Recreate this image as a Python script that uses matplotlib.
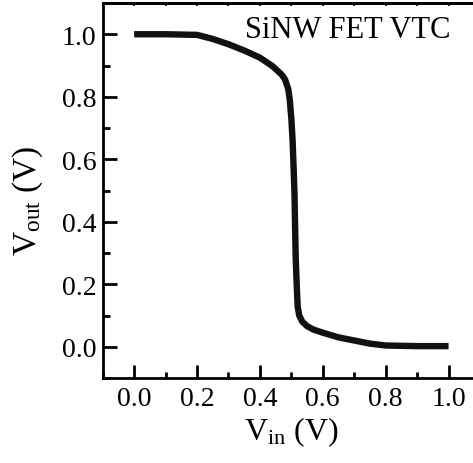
import matplotlib
matplotlib.use("Agg")
import matplotlib.pyplot as plt
from matplotlib.ticker import MultipleLocator

plt.rcParams["font.family"] = ["Liberation Serif", "DejaVu Serif"]
plt.rcParams["mathtext.fontset"] = "custom"
plt.rcParams["mathtext.rm"] = "Liberation Serif"
plt.rcParams["mathtext.it"] = "Liberation Serif"

# Voltage transfer characteristic of the SiNW FET inverter
vin = [0.00, 0.10, 0.20, 0.25, 0.30, 0.35, 0.40, 0.44, 0.47, 0.48, 0.49,
       0.495, 0.500, 0.504, 0.508, 0.510, 0.512, 0.514, 0.517, 0.520,
       0.525, 0.535, 0.55, 0.57, 0.60, 0.65, 0.70, 0.75, 0.80, 0.90, 1.00]
vout = [1.000, 1.000, 0.998, 0.985, 0.968, 0.948, 0.925, 0.898, 0.870,
        0.855, 0.825, 0.790, 0.730, 0.660, 0.550, 0.490, 0.380, 0.280,
        0.200, 0.130, 0.100, 0.080, 0.066, 0.055, 0.045, 0.030, 0.020,
        0.010, 0.004, 0.002, 0.002]

x_ticks = [0.0, 0.2, 0.4, 0.6, 0.8, 1.0]
y_ticks = [0.0, 0.2, 0.4, 0.6, 0.8, 1.0]
title = "SiNW FET VTC"

W, H = 473, 464
fig = plt.figure(figsize=(W / 100, H / 100), dpi=100)
ax = fig.add_axes([102.7 / W, 85 / H, 377.3 / W, 375 / H])

ax.plot(vin, vout, color="#111111", lw=4.6, solid_capstyle="butt")

ax.set_xlim(-0.1, 1.1)
ax.set_ylim(-0.1, 1.1)
ax.set_xticks(x_ticks)
ax.set_yticks(y_ticks)
ax.set_xticklabels([f"{v:.1f}" for v in x_ticks])
ax.set_yticklabels([f"{v:.1f}" for v in y_ticks])
ax.xaxis.set_minor_locator(MultipleLocator(0.1))
ax.yaxis.set_minor_locator(MultipleLocator(0.1))

ax.tick_params(which="both", direction="in", top=False, right=False,
               width=2.0, labelsize=20)
ax.tick_params(axis="x", which="major", length=9.5, pad=6)
ax.tick_params(axis="x", which="minor", length=4.5)
ax.tick_params(axis="y", which="major", length=10, pad=4.5)
ax.tick_params(axis="y", which="minor", length=5)

for side in ("left", "bottom", "top"):
    ax.spines[side].set_linewidth(2.0)
ax.spines["right"].set_visible(False)

# small inward ticks along the top frame
top = ax.secondary_xaxis("top")
top.set_xticks([i / 10 for i in range(-1, 12)])
top.tick_params(direction="in", length=2.5, width=1.2, labeltop=False)
top.spines["top"].set_linewidth(2.0)

ax.set_xlabel(r"$\mathrm{V_{in}}$ (V)", fontsize=23, labelpad=2)
ax.set_ylabel(r"$\mathrm{V_{out}}$ (V)", fontsize=24)
ax.yaxis.set_label_coords(-0.152, 0.475)

ax.text(0.68, 0.99, title, transform=ax.transData, fontsize=22,
        ha="center", va="baseline")

fig.savefig("out.png", dpi=100)
